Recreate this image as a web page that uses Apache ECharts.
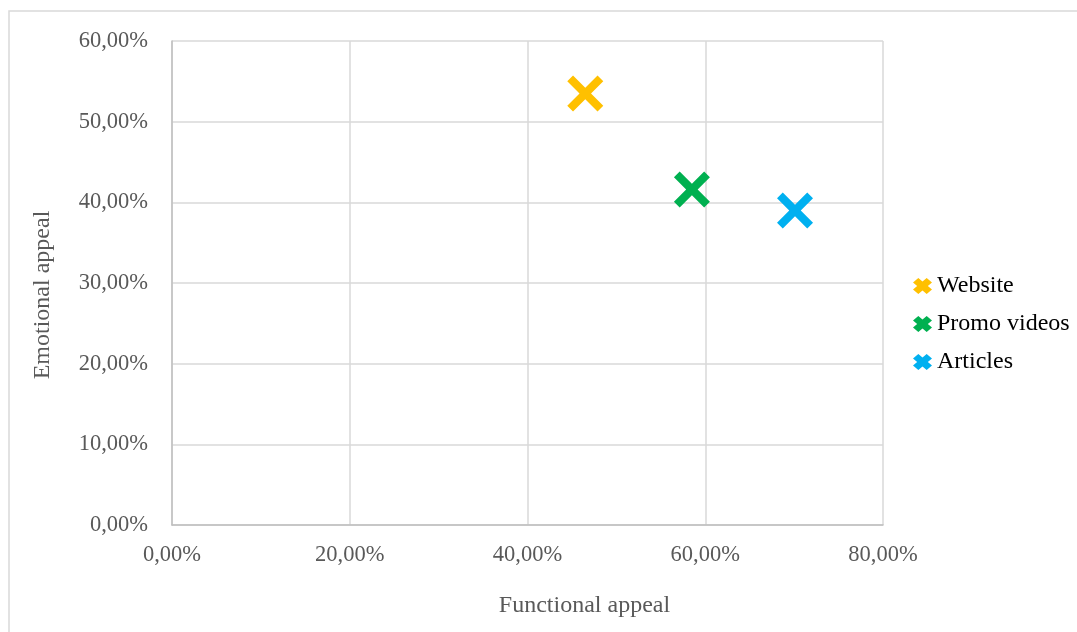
<!DOCTYPE html>
<html><head><meta charset="utf-8">
<script src="https://cdn.jsdelivr.net/npm/echarts@6/dist/echarts.min.js"></script>
<style>html,body{margin:0;padding:0;background:#fff}#c{width:1077px;height:632px}</style>
</head><body><div id="c"></div>
<script>
const seriesNames = ['Website', 'Promo videos', 'Articles'];
const functionalAppeal = [46.5, 58.5, 70.1];
const emotionalAppeal = [53.5, 41.6, 39.0];
const colors = ['#FFC000', '#00B050', '#00B0F0'];
const xTicks = [0, 20, 40, 60, 80];
const yTicks = [0, 10, 20, 30, 40, 50, 60];

const xMarker = 'path://M16,0 L50,34 L84,0 L100,16 L66,50 L100,84 L84,100 L50,66 L16,100 L0,84 L34,50 L0,16 Z';
const xIcon = 'path://M28,0 L50,22 L72,0 L100,28 L78,50 L100,72 L72,100 L50,78 L28,100 L0,72 L22,50 L0,28 Z';
const font = '"Liberation Serif", "Times New Roman", serif';
const fmt = v => v.toFixed(2).replace('.', ',') + '%';

const chart = echarts.init(document.getElementById('c'), null, {renderer: 'canvas'});
chart.setOption({
  animation: false,
  backgroundColor: '#fff',
  textStyle: {fontFamily: font},
  graphic: [{
    type: 'rect', silent: true,
    shape: {x: 9, y: 11, width: 1100, height: 700},
    style: {fill: 'none', stroke: '#d9d9d9', lineWidth: 1.5}
  }],
  grid: {left: 172, top: 41, right: 194, bottom: 107, containLabel: false},
  xAxis: {
    type: 'value', min: xTicks[0], max: xTicks[xTicks.length - 1], interval: 20,
    name: 'Functional appeal', nameLocation: 'middle', nameGap: 69,
    nameTextStyle: {fontFamily: font, fontSize: 24, color: '#595959', padding: [0, 0, 0, 114]},
    axisLine: {show: true, lineStyle: {color: '#bfbfbf', width: 1.5}},
    axisTick: {show: false},
    axisLabel: {formatter: fmt, fontFamily: font, fontSize: 22.5, color: '#595959', margin: 19},
    splitLine: {show: true, lineStyle: {color: '#d9d9d9', width: 1.5}}
  },
  yAxis: {
    type: 'value', min: yTicks[0], max: yTicks[yTicks.length - 1], interval: 10,
    name: 'Emotional appeal', nameLocation: 'middle', nameGap: 117,
    nameTextStyle: {fontFamily: font, fontSize: 24, color: '#595959', padding: [0, 24, 0, 0]},
    axisLine: {show: true, lineStyle: {color: '#bfbfbf', width: 1.5}},
    axisTick: {show: false},
    axisLabel: {formatter: fmt, fontFamily: font, fontSize: 22.5, color: '#595959', margin: 24},
    splitLine: {show: true, lineStyle: {color: '#d9d9d9', width: 1.5}}
  },
  legend: {
    orient: 'vertical', left: 913, top: 274, padding: [0, -14, 0, 0],
    itemWidth: 19, itemHeight: 16, itemGap: 14, itemTextGap: 12,
    symbolKeepAspect: false,
    textStyle: {fontFamily: font, fontSize: 24, color: '#000'},
    data: seriesNames.map(n => ({name: n, icon: xIcon}))
  },
  series: seriesNames.map((n, i) => ({
    name: n, type: 'scatter',
    symbol: xMarker, symbolSize: 36,
    itemStyle: {color: colors[i], opacity: 1},
    data: [[functionalAppeal[i], emotionalAppeal[i]]]
  }))
});
</script></body></html>
